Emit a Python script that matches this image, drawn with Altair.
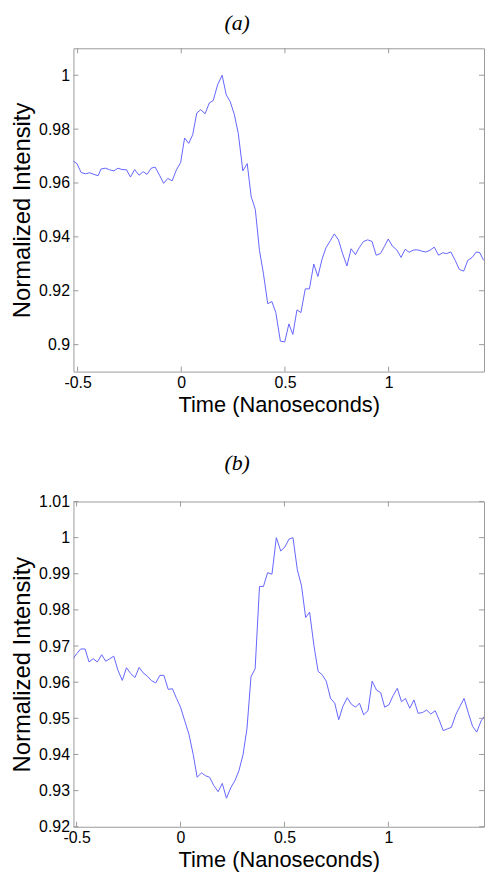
import altair as alt
import pandas as pd

# ---- data ----
XTICKS = [-0.5, 0, 0.5, 1]
YTICKS_A = [0.9, 0.92, 0.94, 0.96, 0.98, 1.0]
YTICKS_B = [0.92, 0.93, 0.94, 0.95, 0.96, 0.97, 0.98, 0.99, 1.0, 1.01]

time_a = [-0.522, -0.503, -0.483, -0.462, -0.442, -0.421, -0.401, -0.387, -0.365, -0.346,
          -0.325, -0.305, -0.286, -0.264, -0.245, -0.225, -0.204, -0.184, -0.165, -0.145,
          -0.126, -0.105, -0.085, -0.065, -0.044, -0.024, -0.003, 0.016, 0.036, 0.055,
          0.075, 0.094, 0.115, 0.135, 0.154, 0.175, 0.197, 0.217, 0.236, 0.256,
          0.275, 0.297, 0.318, 0.337, 0.357, 0.377, 0.396, 0.417, 0.437, 0.456,
          0.478, 0.499, 0.519, 0.538, 0.558, 0.577, 0.598, 0.618, 0.639, 0.659,
          0.679, 0.698, 0.719, 0.738, 0.758, 0.778, 0.799, 0.819, 0.840, 0.858,
          0.879, 0.899, 0.920, 0.940, 0.961, 0.980, 0.998, 1.019, 1.039, 1.060,
          1.080, 1.099, 1.119, 1.140, 1.160, 1.179, 1.199, 1.220, 1.241, 1.261,
          1.280, 1.300, 1.321, 1.341, 1.362, 1.382, 1.402, 1.423, 1.440, 1.458]
intensity_a = [0.9682, 0.9672, 0.9639, 0.9634, 0.9638, 0.9632, 0.9627, 0.9652, 0.9655, 0.9649,
               0.9645, 0.9655, 0.9650, 0.9649, 0.9622, 0.9650, 0.9629, 0.9642, 0.9632, 0.9655,
               0.9659, 0.9629, 0.9599, 0.9617, 0.9608, 0.9648, 0.9676, 0.9767, 0.9747, 0.9779,
               0.9860, 0.9872, 0.9857, 0.9897, 0.9906, 0.9964, 1.0000, 0.9927, 0.9902, 0.9854,
               0.9784, 0.9645, 0.9672, 0.9550, 0.9502, 0.9350, 0.9265, 0.9152, 0.9160, 0.9119,
               0.9013, 0.9010, 0.9077, 0.9038, 0.9129, 0.9119, 0.9207, 0.9207, 0.9299, 0.9253,
               0.9318, 0.9360, 0.9386, 0.9411, 0.9389, 0.9338, 0.9292, 0.9356, 0.9334, 0.9360,
               0.9383, 0.9389, 0.9383, 0.9332, 0.9338, 0.9365, 0.9392, 0.9365, 0.9352, 0.9324,
               0.9354, 0.9343, 0.9351, 0.9352, 0.9347, 0.9344, 0.9350, 0.9362, 0.9332, 0.9341,
               0.9338, 0.9344, 0.9313, 0.9279, 0.9273, 0.9313, 0.9323, 0.9344, 0.9341, 0.9313]

time_b = [-0.517, -0.499, -0.480, -0.459, -0.440, -0.420, -0.400, -0.379, -0.360, -0.340,
          -0.321, -0.301, -0.280, -0.260, -0.240, -0.219, -0.199, -0.180, -0.160, -0.139,
          -0.119, -0.099, -0.080, -0.059, -0.039, -0.019, 0.000, 0.021, 0.041, 0.061,
          0.080, 0.101, 0.121, 0.140, 0.160, 0.181, 0.201, 0.221, 0.242, 0.262,
          0.281, 0.301, 0.320, 0.339, 0.359, 0.380, 0.399, 0.419, 0.440, 0.461,
          0.482, 0.502, 0.522, 0.541, 0.562, 0.582, 0.602, 0.621, 0.642, 0.662,
          0.681, 0.701, 0.722, 0.742, 0.761, 0.781, 0.802, 0.822, 0.842, 0.861,
          0.881, 0.902, 0.922, 0.943, 0.963, 0.982, 1.002, 1.023, 1.043, 1.063,
          1.082, 1.103, 1.123, 1.143, 1.164, 1.184, 1.204, 1.225, 1.244, 1.264,
          1.284, 1.303, 1.324, 1.344, 1.364, 1.385, 1.405, 1.425, 1.446, 1.461]
intensity_b = [0.9665, 0.9679, 0.9692, 0.9692, 0.9656, 0.9665, 0.9656, 0.9676, 0.9658, 0.9665,
               0.9672, 0.9633, 0.9605, 0.9640, 0.9624, 0.9613, 0.9641, 0.9626, 0.9617, 0.9604,
               0.9598, 0.9619, 0.9619, 0.9580, 0.9582, 0.9555, 0.9531, 0.9492, 0.9455, 0.9400,
               0.9337, 0.9349, 0.9341, 0.9337, 0.9314, 0.9297, 0.9320, 0.9279, 0.9308, 0.9328,
               0.9355, 0.9400, 0.9473, 0.9615, 0.9637, 0.9865, 0.9865, 0.9903, 0.9899, 1.0000,
               0.9963, 0.9974, 0.9996, 1.0000, 0.9911, 0.9867, 0.9779, 0.9794, 0.9701, 0.9630,
               0.9621, 0.9603, 0.9555, 0.9542, 0.9496, 0.9533, 0.9557, 0.9539, 0.9531, 0.9542,
               0.9510, 0.9521, 0.9603, 0.9578, 0.9571, 0.9531, 0.9537, 0.9563, 0.9583, 0.9546,
               0.9555, 0.9528, 0.9551, 0.9514, 0.9516, 0.9523, 0.9512, 0.9521, 0.9496, 0.9466,
               0.9471, 0.9475, 0.9510, 0.9533, 0.9555, 0.9514, 0.9478, 0.9462, 0.9493, 0.9505]

# ---- style ----
W = 414
GRAY = "#9a9a9a"
BLUE = "#6464ff"
SANS = "Liberation Sans"
TICK = 5


def panel(t, v, xdom, ydom, yticks, title, H, toff):
    df = pd.DataFrame({"t": t, "v": v})
    xs = alt.Scale(domain=xdom, nice=False, zero=False)
    ys = alt.Scale(domain=ydom, nice=False, zero=False)
    common = dict(labelFontSize=16, labelFont=SANS, titleFont=SANS, titleFontWeight="normal",
                  grid=False, domain=False, ticks=False, tickSize=0,
                  labelColor="black", titleColor="black", labelExpr="'' + datum.value")
    xa = alt.Axis(values=XTICKS, title="Time (Nanoseconds)", labelFlush=False,
                  labelPadding=3, titlePadding=4, titleFontSize=22, **common)
    ya = alt.Axis(values=yticks, title="Normalized Intensity",
                  labelPadding=4, titlePadding=4, titleFontSize=24, **common)
    line = alt.Chart(df).mark_line(color=BLUE, strokeWidth=1, clip=True).encode(
        x=alt.X("t:Q", scale=xs, axis=xa),
        y=alt.Y("v:Q", scale=ys, axis=ya),
    )
    dy = pd.DataFrame({"v": yticks})
    dx = pd.DataFrame({"t": XTICKS})
    left = alt.Chart(dy).mark_rule(color=GRAY).encode(
        y=alt.Y("v:Q", scale=ys, axis=ya), x=alt.value(0), x2=alt.value(TICK))
    right = alt.Chart(dy).mark_rule(color=GRAY).encode(
        y=alt.Y("v:Q", scale=ys, axis=ya), x=alt.value(W - TICK), x2=alt.value(W))
    bottom = alt.Chart(dx).mark_rule(color=GRAY).encode(
        x=alt.X("t:Q", scale=xs, axis=xa), y=alt.value(H - TICK), y2=alt.value(H))
    top = alt.Chart(dx).mark_rule(color=GRAY).encode(
        x=alt.X("t:Q", scale=xs, axis=xa), y=alt.value(0), y2=alt.value(TICK))
    return alt.layer(line, left, right, bottom, top).properties(
        width=W, height=H,
        title=alt.TitleParams(title, font="Liberation Serif", fontStyle="italic",
                              fontWeight="normal", fontSize=22, offset=toff, dx=-42,
                              anchor="middle", color="black"),
    )


chart_a = panel(time_a, intensity_a, [-0.52, 1.46], [0.89, 1.01], YTICKS_A, "(a)", 326, 13)
chart_b = panel(time_b, intensity_b, [-0.515, 1.46], [0.92, 1.01], YTICKS_B, "(b)", 328, 19)

chart = alt.vconcat(chart_a, chart_b, spacing=35).properties(
    padding={"left": 2, "top": 0, "right": 0, "bottom": 0}, background="white"
).configure_view(stroke=GRAY, strokeWidth=1)

chart.save("out.html", embed_options={"renderer": "svg", "actions": False})
